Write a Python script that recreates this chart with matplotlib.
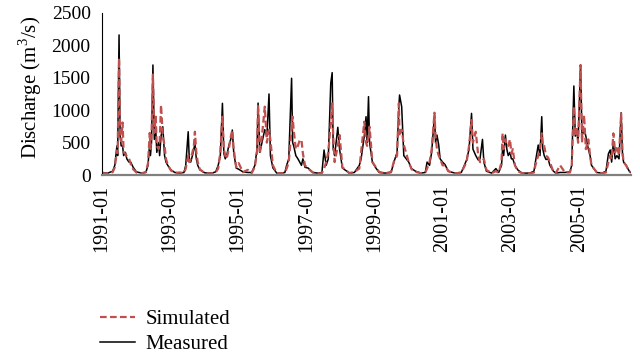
import numpy as np
import matplotlib
matplotlib.use("Agg")
import matplotlib.pyplot as plt

plt.rcParams['font.family'] = ['Liberation Serif', 'DejaVu Serif']
plt.rcParams['mathtext.fontset'] = 'custom'
plt.rcParams['mathtext.rm'] = 'Liberation Serif'

# time of each reading, decimal years
year = [
    1991.00, 1991.17, 1991.31, 1991.37, 1991.43, 1991.45, 1991.49, 1991.52, 1991.55, 1991.59,
    1991.62, 1991.67, 1991.71, 1991.77, 1991.82, 1991.89, 1991.98, 1992.13, 1992.25,
    1992.31, 1992.36, 1992.38, 1992.41, 1992.45, 1992.49, 1992.53, 1992.56, 1992.61, 1992.64,
    1992.68, 1992.73, 1992.78, 1992.82, 1992.87, 1992.96, 1993.07, 1993.21, 1993.33,
    1993.38, 1993.45, 1993.48, 1993.52, 1993.57, 1993.61, 1993.64, 1993.68, 1993.72, 1993.78,
    1993.92, 1994.12, 1994.23,
    1994.30, 1994.36, 1994.42, 1994.46, 1994.50, 1994.54, 1994.60, 1994.66, 1994.70, 1994.74,
    1994.81, 1994.88, 1995.00, 1995.14, 1995.25,
    1995.34, 1995.40, 1995.43, 1995.48, 1995.54, 1995.62, 1995.68, 1995.74, 1995.78, 1995.85,
    1995.96, 1996.10, 1996.19,
    1996.24, 1996.30, 1996.38, 1996.41, 1996.44, 1996.50, 1996.56, 1996.61, 1996.66, 1996.70,
    1996.76, 1996.85, 1996.98, 1997.12, 1997.24,
    1997.30, 1997.36, 1997.42, 1997.49, 1997.53, 1997.56, 1997.60, 1997.69, 1997.74, 1997.82,
    1998.02, 1998.16,
    1998.30, 1998.35, 1998.44, 1998.49, 1998.52, 1998.56, 1998.59, 1998.67, 1998.77, 1998.86,
    1999.03, 1999.20,
    1999.28, 1999.37, 1999.42, 1999.44, 1999.50, 1999.56, 1999.63, 1999.70, 1999.78, 1999.89,
    2000.04, 2000.17,
    2000.22, 2000.29, 2000.35, 2000.43, 2000.46, 2000.50, 2000.55, 2000.59, 2000.66, 2000.73,
    2000.82, 2001.01, 2001.19,
    2001.34, 2001.41, 2001.48, 2001.52, 2001.60, 2001.67, 2001.72, 2001.79, 2001.83, 2001.90,
    2002.05, 2002.17, 2002.25,
    2002.33, 2002.36, 2002.39, 2002.44, 2002.48, 2002.52, 2002.57, 2002.61, 2002.65, 2002.71,
    2002.79, 2002.91, 2003.13, 2003.25,
    2003.29, 2003.37, 2003.42, 2003.47, 2003.50, 2003.54, 2003.59, 2003.65, 2003.70, 2003.80,
    2003.87, 2003.99, 2004.13, 2004.27,
    2004.32, 2004.38, 2004.42, 2004.46, 2004.50, 2004.57, 2004.61, 2004.67, 2004.72, 2004.79,
    2004.84, 2004.88, 2005.03, 2005.18, 2005.29,
    2005.36, 2005.41, 2005.45, 2005.50, 2005.55, 2005.60, 2005.66, 2005.72, 2005.76, 2005.79,
    2005.86, 2005.95, 2005.99,
]

measured = [
    40, 30, 60, 150, 450, 300, 2160, 600, 450, 450,
    300, 350, 250, 200, 200, 120, 50, 30, 40,
    150, 500, 300, 500, 1697, 550, 700, 350, 500, 300,
    600, 745, 300, 200, 150, 80, 40, 30, 40,
    150, 668, 250, 200, 300, 400, 489, 250, 150, 80,
    35, 30, 50,
    150, 300, 1106, 334, 250, 300, 450, 560, 694, 350,
    108, 90, 50, 40, 40,
    150, 400, 1110, 350, 500, 700, 600, 1250, 300, 110,
    30, 30, 40,
    150, 250, 1492, 500, 450, 300, 250, 200, 150, 250,
    120, 108, 40, 30, 40,
    386, 150, 250, 1414, 1579, 400, 300, 736, 400, 108,
    30, 40,
    150, 250, 600, 900, 500, 1209, 500, 200, 108, 40,
    30, 40,
    200, 350, 1054, 1234, 1054, 300, 250, 200, 100, 60,
    30, 40,
    200, 150, 350, 925, 500, 617, 463, 250, 200, 160,
    60, 30, 40,
    232, 400, 951, 400, 300, 232, 250, 550, 200, 60,
    30, 100, 40,
    150, 400, 300, 617, 400, 300, 350, 250, 250, 150,
    80, 30, 30, 60,
    200, 463, 300, 900, 400, 300, 240, 250, 150, 60,
    30, 40, 40, 50,
    150, 1373, 600, 700, 500, 1697, 600, 700, 600, 400,
    300, 150, 40, 30, 60,
    330, 386, 200, 500, 250, 300, 250, 961, 300, 200,
    150, 60, 40,
]

simulated = [
    30, 25, 45, 120, 380, 350, 1800, 700, 520, 810,
    350, 330, 290, 260, 170, 90, 40, 25, 50,
    180, 650, 400, 620, 1550, 650, 900, 450, 400, 500,
    1080, 600, 450, 250, 160, 70, 35, 40, 30,
    100, 300, 200, 250, 350, 450, 668, 350, 200, 90,
    30, 25, 40,
    100, 350, 900, 400, 300, 250, 400, 600, 694, 400,
    120, 185, 45, 80, 30,
    130, 350, 1080, 328, 600, 1054, 500, 700, 540, 150,
    30, 25, 40,
    100, 200, 700, 900, 694, 400, 450, 540, 540, 334,
    150, 100, 40, 25, 30,
    100, 200, 350, 800, 1106, 600, 200, 450, 617, 120,
    30, 50,
    100, 350, 823, 500, 450, 600, 745, 200, 120, 50,
    25, 50,
    210, 300, 1106, 600, 700, 468, 334, 200, 90, 50,
    30, 40,
    100, 200, 400, 961, 600, 400, 300, 252, 150, 150,
    60, 25, 40,
    200, 450, 848, 500, 668, 300, 200, 200, 250, 80,
    30, 60, 35,
    200, 643, 400, 550, 450, 450, 550, 330, 400, 150,
    60, 30, 25, 40,
    150, 300, 400, 643, 450, 450, 300, 270, 200, 50,
    30, 150, 40, 40,
    150, 1054, 600, 745, 500, 1697, 500, 925, 400, 550,
    300, 150, 40, 30, 40,
    200, 300, 250, 643, 350, 450, 300, 950, 350, 200,
    150, 60, 40,
]

tick_labels = ['1991-01', '1993-01', '1995-01', '1997-01',
               '1999-01', '2001-01', '2003-01', '2005-01']
tick_step = 706  # days between labels on the category axis
n_days = 5479

day = (np.array(year) - 1991.0) * 365.25

fig = plt.figure(figsize=(6.4, 3.58), dpi=100)
ax = fig.add_axes([0.159, 0.511, 0.827, 0.453])

ax.plot(day, measured, color='black', lw=1.1, label='Measured')
ax.plot(day, simulated, color='#C0504D', lw=1.6, ls=(0, (3, 1.5)), label='Simulated')

ax.set_xlim(0, n_days)
ax.set_ylim(0, 2500)
ax.set_yticks([0, 500, 1000, 1500, 2000, 2500])
ax.set_xticks([i * tick_step for i in range(len(tick_labels))])
ax.set_xticklabels(tick_labels, rotation=90)
ax.tick_params(axis='both', length=0)
ax.tick_params(axis='x', pad=7, labelsize=14.5)
ax.tick_params(axis='y', pad=8, labelsize=14)
ax.set_ylabel('Discharge (m$^3$/s)', fontsize=15)
ax.yaxis.set_label_coords(-0.11, 0.54)

for s in ['top', 'right']:
    ax.spines[s].set_visible(False)
ax.spines['left'].set_color('black')
ax.spines['left'].set_linewidth(0.8)
ax.spines['bottom'].set_color('#808080')
ax.spines['bottom'].set_linewidth(1.6)

h, l = ax.get_legend_handles_labels()
fig.legend([h[1], h[0]], [l[1], l[0]], loc='upper left',
           bbox_to_anchor=(0.156, 0.135), bbox_transform=fig.transFigure,
           frameon=False, fontsize=15, handlelength=1.7,
           handletextpad=0.5, labelspacing=0.25, borderaxespad=0, borderpad=0)

fig.savefig('out.png', dpi=100)
